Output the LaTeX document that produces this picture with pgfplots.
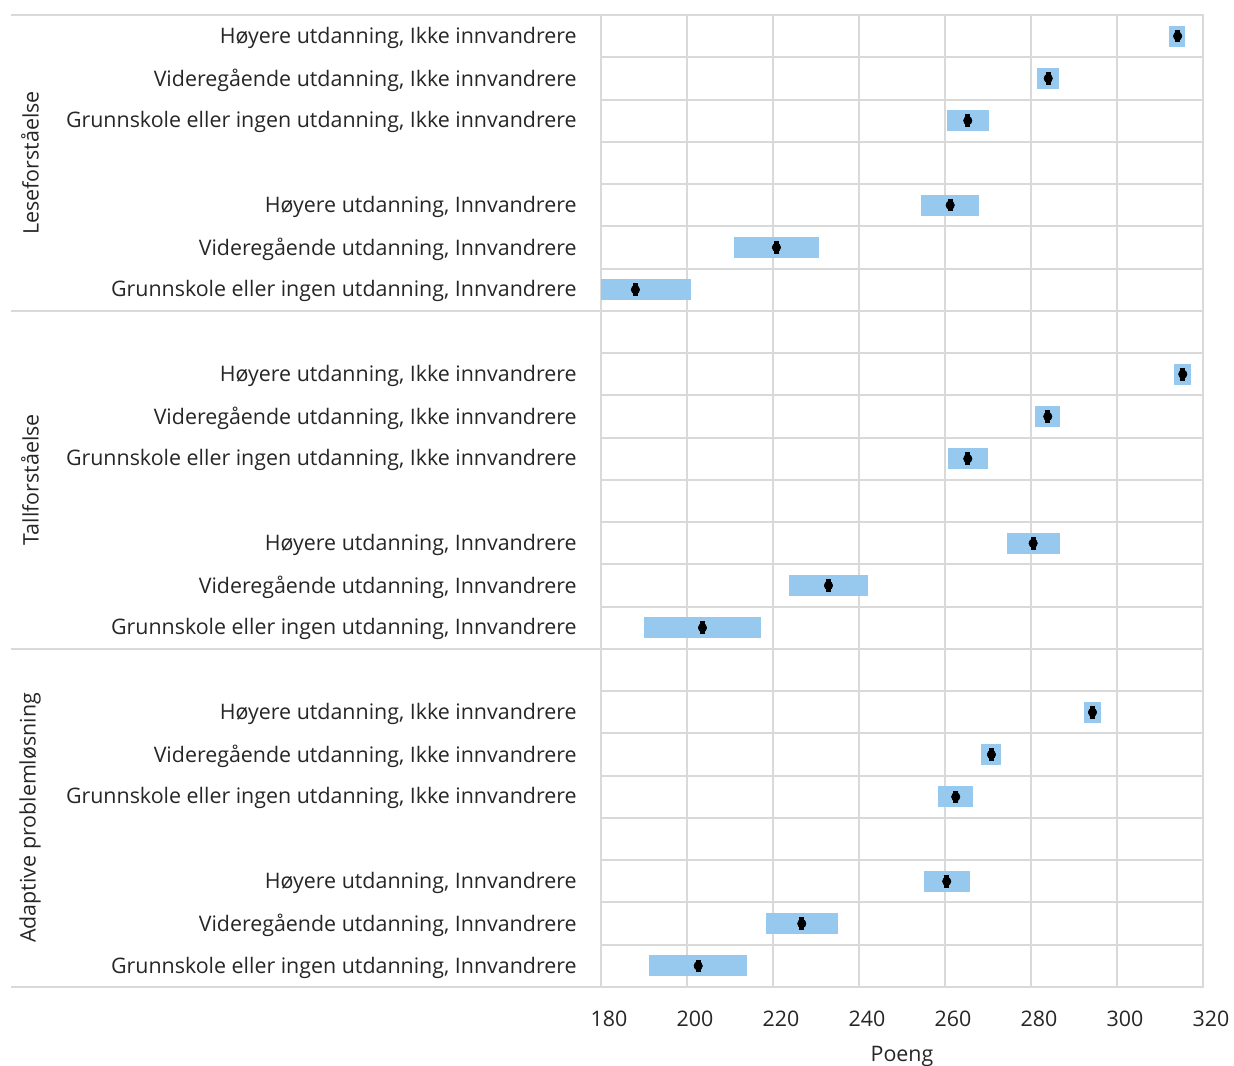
\documentclass[border=0pt]{standalone}
\usepackage{fontspec}
\setmainfont{Open Sans}
\usepackage{pgfplots}
\usepackage{pgfplotstable}
\pgfplotsset{compat=1.18}
\definecolor{gridgray}{RGB}{217,217,217}
\definecolor{barblue}{RGB}{151,200,237}

% row (1 = bottom), lower and upper end of the bar, mean
\pgfplotstableread{
y  lo    hi    mean
1  191.2 213.9 202.6
2  218.3 235.0 226.7
3  255.2 265.8 260.4
5  258.3 266.6 262.5
6  268.4 273.1 270.8
7  292.3 296.2 294.3
9  190.1 217.3 203.6
10 223.7 242.2 232.9
11 274.4 286.8 280.5
13 260.6 270.0 265.3
14 281.0 286.7 283.9
15 313.3 317.3 315.3
17 180.0 200.9 188.0
18 210.9 230.6 220.8
19 254.4 268.0 261.2
21 260.5 270.2 265.3
22 281.5 286.6 284.0
23 312.1 315.9 314.1
}\ranges

\newcommand{\lblfont}{\fontsize{10.7}{12.5}\selectfont}

\begin{document}
\begin{tikzpicture}
\begin{axis}[
    name=ax, scale only axis,
    width=301pt, height=486pt,
    xmin=180, xmax=320, ymin=0.5, ymax=23.5,
    xtick={180,200,...,320}, xmajorgrids,
    ytick={1,...,23},
    yticklabels={{Grunnskole eller ingen utdanning, Innvandrere},
      {Videregående utdanning, Innvandrere},
      {Høyere utdanning, Innvandrere}, {},
      {Grunnskole eller ingen utdanning, Ikke innvandrere},
      {Videregående utdanning, Ikke innvandrere},
      {Høyere utdanning, Ikke innvandrere}, {},
      {Grunnskole eller ingen utdanning, Innvandrere},
      {Videregående utdanning, Innvandrere},
      {Høyere utdanning, Innvandrere}, {},
      {Grunnskole eller ingen utdanning, Ikke innvandrere},
      {Videregående utdanning, Ikke innvandrere},
      {Høyere utdanning, Ikke innvandrere}, {},
      {Grunnskole eller ingen utdanning, Innvandrere},
      {Videregående utdanning, Innvandrere},
      {Høyere utdanning, Innvandrere}, {},
      {Grunnskole eller ingen utdanning, Ikke innvandrere},
      {Videregående utdanning, Ikke innvandrere},
      {Høyere utdanning, Ikke innvandrere}},
    minor ytick={1.5,2.5,...,22.5}, yminorgrids,
    major tick length=0, minor tick length=0,
    grid style={gridgray, line width=1pt},
    minor grid style={gridgray, line width=1pt},
    axis line style={gridgray, line width=1pt},
    tick label style={font=\lblfont, text=black!85},
    yticklabel style={anchor=east, inner sep=0pt, xshift=-12pt, yshift=-0.8pt},
    xticklabel style={anchor=north, inner sep=0pt, yshift=-12pt, xshift=4pt},
    xlabel={Poeng},
    xlabel style={at={(axis description cs:0.5,0)}, anchor=north, inner sep=0pt,
      yshift=-29.5pt, font=\lblfont, text=black!85},
    /pgf/number format/assume math mode=true,
    /pgf/number format/1000 sep={},
    clip=false,
]
% light blue range bars
\addplot[only marks, mark=none, forget plot,
    error bars/.cd, x dir=both, x explicit, error mark=none,
    error bar style={barblue, line width=10.5pt}]
    table[x=mean, y=y,
      x error plus expr=\thisrow{hi}-\thisrow{mean},
      x error minus expr=\thisrow{mean}-\thisrow{lo}] {\ranges};
% black mean markers
\addplot[only marks, mark=none, forget plot,
    error bars/.cd, x dir=both, x fixed=0.58, error mark=none,
    error bar style={black, line width=6.3pt}]
    table[x=mean, y=y] {\ranges};

% group separators to the left of the plot area
\pgfplotsinvokeforeach{0.5,8.5,16.5,23.5}{
  \draw[gridgray, line width=1pt] (axis cs:42.8,#1) -- (axis cs:180,#1);
}

\node[rotate=90, font=\lblfont, text=black!85]
  at (axis cs:47.2,20) {Leseforståelse};
\node[rotate=90, font=\lblfont, text=black!85]
  at (axis cs:47.2,12.5) {Tallforståelse};
\node[rotate=90, font=\lblfont, text=black!85]
  at (axis cs:47.2,4.5) {Adaptive problemløsning};
\end{axis}
\pgfresetboundingbox
\path[use as bounding box] ([xshift=-300.5pt,yshift=-39pt]ax.south west)
  rectangle ([xshift=15.5pt,yshift=7.5pt]ax.north east);
\end{tikzpicture}
\end{document}
